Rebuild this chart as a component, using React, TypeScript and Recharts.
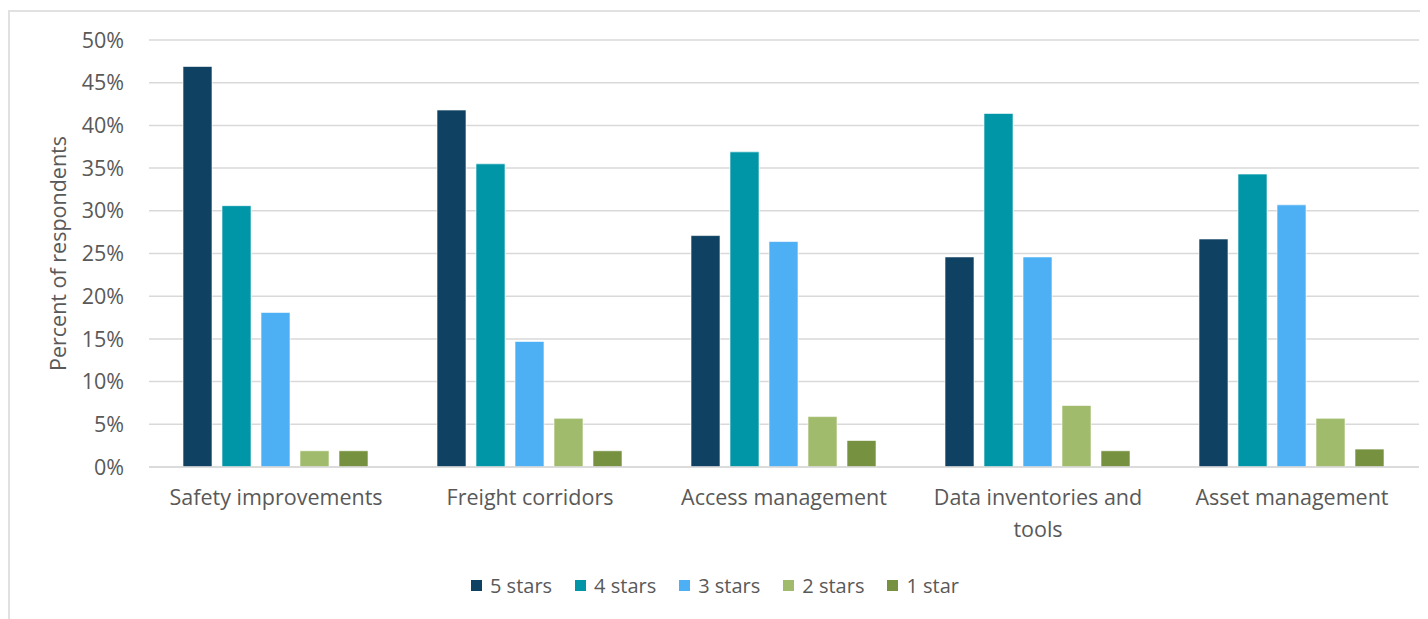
import React from 'react';
import { BarChart, Bar, XAxis, YAxis, CartesianGrid, Legend } from 'recharts';

// Survey categories and the share of respondents giving each star rating (percent)
const categories = [
  'Safety improvements',
  'Freight corridors',
  'Access management',
  'Data inventories and tools',
  'Asset management',
];
const fiveStars = [46.9, 41.8, 27.1, 24.6, 26.7];
const fourStars = [30.6, 35.5, 36.9, 41.4, 34.3];
const threeStars = [18.1, 14.7, 26.4, 24.6, 30.7];
const twoStars = [1.9, 5.7, 5.9, 7.2, 5.7];
const oneStar = [1.9, 1.9, 3.1, 1.9, 2.1];
const yTicks = [0, 5, 10, 15, 20, 25, 30, 35, 40, 45, 50];

const seriesNames = ['5 stars', '4 stars', '3 stars', '2 stars', '1 star'];
const seriesValues = [fiveStars, fourStars, threeStars, twoStars, oneStar];
const seriesColors = ['#0f4262', '#0096a8', '#4eb0f4', '#9fbb6b', '#76913f'];
const seriesKeys = ['s5', 's4', 's3', 's2', 's1'];

const data = categories.map((name, i) => {
  const row: Record<string, string | number> = { name };
  seriesKeys.forEach((k, s) => {
    row[k] = seriesValues[s][i];
  });
  return row;
});

const FONT = '"Open Sans", sans-serif';
const AXIS_SIZE = 21.5;
const TEXT_COLOR = '#595959';
const GRID_COLOR = '#d9d9d9';
const LABEL_MAX_WIDTH = 236;

let measureCtx: CanvasRenderingContext2D | null = null;
function measure(text: string): number {
  if (!measureCtx) {
    measureCtx = document.createElement('canvas').getContext('2d');
  }
  if (!measureCtx) return text.length * AXIS_SIZE * 0.55;
  measureCtx.font = `${AXIS_SIZE}px "Open Sans"`;
  return measureCtx.measureText(text).width;
}

// Greedy word wrap of a category label into lines no wider than maxWidth
function wrapLabel(label: string, maxWidth: number): string[] {
  const words = label.split(' ');
  const lines: string[] = [];
  let current = '';
  words.forEach((w) => {
    const candidate = current ? `${current} ${w}` : w;
    if (current && measure(candidate) > maxWidth) {
      lines.push(current);
      current = w;
    } else {
      current = candidate;
    }
  });
  if (current) lines.push(current);
  return lines;
}

const CategoryTick = (props: any) => {
  const { x, y, payload } = props;
  const lines = wrapLabel(String(payload.value), LABEL_MAX_WIDTH);
  return (
    <text
      x={x}
      y={y}
      textAnchor="middle"
      fill={TEXT_COLOR}
      fontSize={AXIS_SIZE}
      fontFamily={FONT}
    >
      {lines.map((line, i) => (
        <tspan key={i} x={x} dy={i === 0 ? '0.71em' : 32}>
          {line}
        </tspan>
      ))}
    </text>
  );
};

// Legend keeps the series order 5 stars → 1 star
const LegendContent = () => (
  <div
    style={{
      display: 'flex',
      justifyContent: 'center',
      alignItems: 'center',
      height: 30,
      paddingLeft: 3,
      fontFamily: FONT,
      fontSize: 20,
      color: TEXT_COLOR,
    }}
  >
    {seriesNames.map((name, i) => (
      <div key={name} style={{ display: 'flex', alignItems: 'center', marginLeft: i === 0 ? 0 : 23 }}>
        <span
          style={{ width: 11, height: 11, background: seriesColors[i], marginRight: 8, display: 'inline-block' }}
        />
        <span>{name}</span>
      </div>
    ))}
  </div>
);

export default function App() {
  return (
    <div style={{ position: 'relative', width: 1420, height: 611, fontFamily: FONT }}>
      <div
        style={{
          position: 'absolute',
          left: 0,
          top: 2,
          right: 0,
          bottom: 0,
          borderTop: '2px solid #e1e1e1',
          borderLeft: '2px solid #e1e1e1',
        }}
      />
      <BarChart
        width={1420}
        height={611}
        data={data}
        margin={{ top: 32, right: 9, bottom: 19, left: 0 }}
        barCategoryGap={34}
        barGap={10}
        style={{ position: 'absolute', left: 0, top: 0 }}
      >
        <CartesianGrid vertical={false} stroke={GRID_COLOR} strokeWidth={1.5} />
        <XAxis
          dataKey="name"
          axisLine={{ stroke: GRID_COLOR, strokeWidth: 1.5 }}
          tickLine={false}
          tickSize={0}
          tickMargin={23}
          height={103}
          interval={0}
          tick={<CategoryTick />}
        />
        <YAxis
          domain={[0, 50]}
          ticks={yTicks}
          tickFormatter={(v: number) => `${v}%`}
          axisLine={false}
          tickLine={false}
          tickSize={0}
          tickMargin={25}
          width={141}
          interval={0}
          tick={{ fill: TEXT_COLOR, fontSize: AXIS_SIZE, fontFamily: FONT }}
          label={{
            value: 'Percent of respondents',
            angle: -90,
            position: 'insideLeft',
            offset: 50,
            style: { textAnchor: 'middle', fill: TEXT_COLOR, fontSize: AXIS_SIZE, fontFamily: FONT },
          }}
        />
        <Legend verticalAlign="bottom" content={<LegendContent />} />
        {seriesKeys.map((k, s) => (
          <Bar
            key={k}
            dataKey={k}
            name={seriesNames[s]}
            fill={seriesColors[s]}
            stroke="#ffffff"
            strokeOpacity={0.6}
            strokeWidth={1}
            isAnimationActive={false}
          />
        ))}
      </BarChart>
    </div>
  );
}
